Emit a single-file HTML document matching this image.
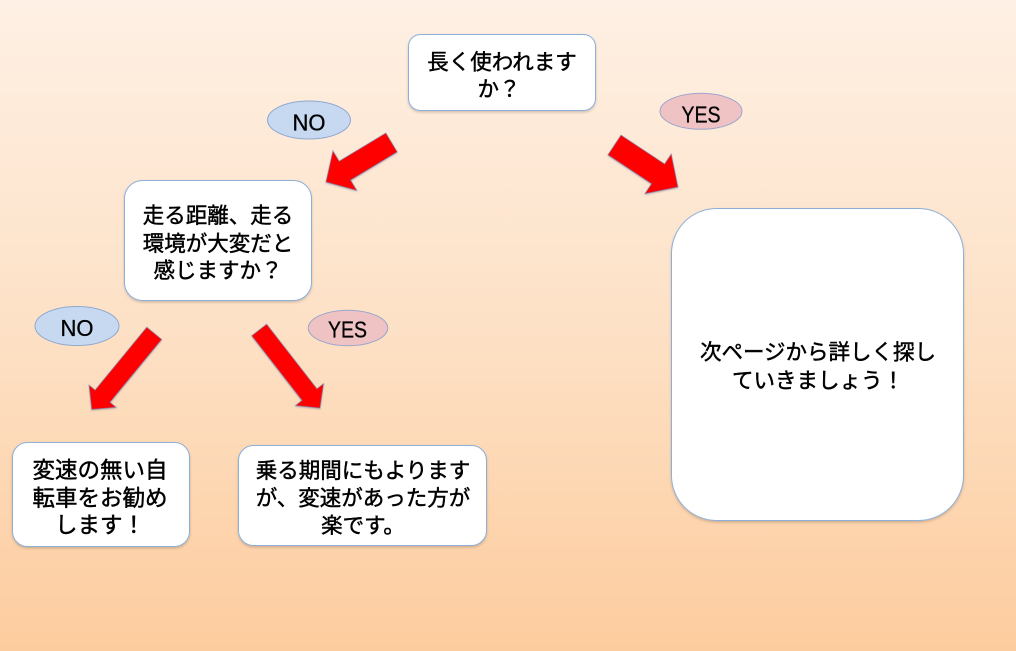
<!DOCTYPE html>
<html>
<head>
<meta charset="utf-8">
<style>
  html,body{margin:0;padding:0;}
  body{width:1016px;height:651px;overflow:hidden;background:linear-gradient(to bottom,#fef0e4 0%,#fde1c6 50%,#fdcc9e 100%);}
  svg{display:block;}
  .jp{font-family:"Liberation Sans","Noto Sans CJK JP",sans-serif;fill:#000;stroke:#000;stroke-width:0.45px;}
  .lat{font-family:"Liberation Sans",sans-serif;fill:#000;stroke:#000;stroke-width:0.3px;}
</style>
</head>
<body>
<svg width="1016" height="651" viewBox="0 0 1016 651" xmlns="http://www.w3.org/2000/svg">
  <defs>
    <filter id="sh" x="-10%" y="-10%" width="120%" height="130%">
      <feDropShadow dx="0" dy="1.5" stdDeviation="1.2" flood-color="#000" flood-opacity="0.18"/>
    </filter>
    <filter id="ash" x="-20%" y="-20%" width="140%" height="140%">
      <feDropShadow dx="0" dy="1" stdDeviation="0.8" flood-color="#3a4a80" flood-opacity="0.35"/>
    </filter>
  </defs>

  <!-- Boxes -->
  <rect x="408.5" y="34.5" width="187" height="76" rx="12" fill="#fff" stroke="#8eafd8" stroke-width="1" filter="url(#sh)"/>
  <rect x="124.5" y="180.5" width="187" height="120" rx="18" fill="#fff" stroke="#8eafd8" stroke-width="1" filter="url(#sh)"/>
  <rect x="12.5" y="442.5" width="177" height="104" rx="15" fill="#fff" stroke="#8eafd8" stroke-width="1" filter="url(#sh)"/>
  <rect x="238.5" y="445.5" width="248" height="100" rx="15" fill="#fff" stroke="#8eafd8" stroke-width="1" filter="url(#sh)"/>
  <rect x="671.5" y="208.5" width="292" height="312" rx="45" fill="#fff" stroke="#8eafd8" stroke-width="1" filter="url(#sh)"/>

  <!-- Box text -->
  <g class="jp" font-size="21.5" text-anchor="middle">
    <text x="502" y="69.5">長く使われます</text>
    <text x="499" y="96.5">か？</text>

    <text x="218" y="223">走る距離、走る</text>
    <text x="218" y="251">環境が大変だと</text>
    <text x="218" y="278">感じますか？</text>

    <text x="363" y="478">乗る期間にもよります</text>
    <text x="363" y="505.5">が、変速があった方が</text>
    <text x="363" y="533">楽です。</text>

    <text x="818" y="359.5">次ページから詳しく探し</text>
    <text x="818" y="388">ていきましょう！</text>
  </g>
  <g class="jp" font-size="22.5" text-anchor="middle">
    <text x="100" y="478">変速の無い自</text>
    <text x="100" y="506">転車をお勧め</text>
    <text x="100" y="533">します！</text>
  </g>

  <!-- Ellipses -->
  <ellipse cx="309" cy="120" rx="41.5" ry="19" fill="#c6d9f1" stroke="#8ea8cf" stroke-width="1"/>
  <ellipse cx="701" cy="111.3" rx="41" ry="18" fill="#efc3c3" stroke="#9aa6cc" stroke-width="1"/>
  <ellipse cx="77" cy="326" rx="42" ry="19.5" fill="#c6d9f1" stroke="#8ea8cf" stroke-width="1"/>
  <ellipse cx="348" cy="328" rx="39.7" ry="17.8" fill="#efc3c3" stroke="#9aa6cc" stroke-width="1"/>

  <g class="lat" font-size="23" text-anchor="middle">
    <text x="309" y="130.5" textLength="33" lengthAdjust="spacingAndGlyphs">NO</text>
    <text x="701" y="122.5" textLength="39" lengthAdjust="spacingAndGlyphs">YES</text>
    <text x="77" y="336" textLength="33" lengthAdjust="spacingAndGlyphs">NO</text>
    <text x="347.5" y="337.5" textLength="39" lengthAdjust="spacingAndGlyphs">YES</text>
  </g>

  <!-- Arrows -->
  <g fill="#ff0000" stroke="#6a7fb0" stroke-opacity="0.55" stroke-width="1" stroke-linejoin="miter" filter="url(#ash)">
    <polygon transform="translate(391.5,142.5) rotate(148.9)" points="0,-11 54.5,-11 54.5,-23 76.5,0 54.5,23 54.5,11 0,11"/>
    <polygon transform="translate(614.5,145) rotate(33.5)" points="0,-11.8 52.3,-11.8 52.3,-23.7 76,0 52.3,23.7 52.3,11.8 0,11.8"/>
    <polygon transform="translate(154.2,333.3) rotate(129.4)" points="0,-9.6 81.4,-9.6 81.4,-17.4 98.4,0 81.4,17.4 81.4,9.6 0,9.6"/>
    <polygon transform="translate(259.2,330) rotate(52.1)" points="0,-9.4 81.9,-9.4 81.9,-17.7 98.9,0 81.9,17.7 81.9,9.4 0,9.4"/>
  </g>
</svg>
</body>
</html>
